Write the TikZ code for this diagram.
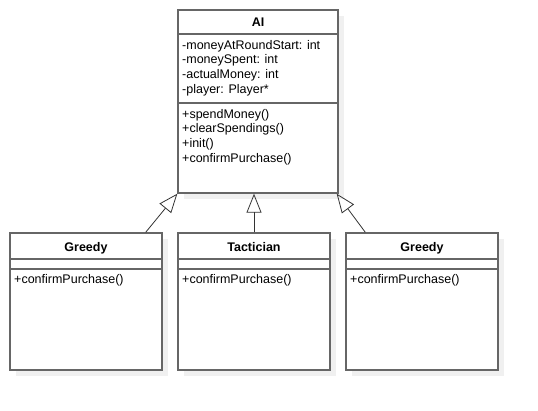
\documentclass[tikz,border=0pt]{standalone}
\usepackage{fontspec}
\setmainfont{Liberation Sans}
\usetikzlibrary{arrows.meta,shadows}
\definecolor{umlline}{rgb}{0.4,0.4,0.4}
\definecolor{umlshadow}{rgb}{0.94,0.94,0.94}

\tikzset{
  umlclass/.style={rectangle,draw=umlline,line width=1.3pt,fill=white,inner sep=0pt,
    drop shadow={shadow xshift=6pt,shadow yshift=-6pt,fill=umlshadow,opacity=1}},
  umltitle/.style={anchor=base,inner sep=0pt,font=\fontsize{12.5}{14.7}\selectfont\bfseries},
  umltext/.style={anchor=base west,inner sep=0pt,font=\fontsize{12.5}{14.7}\selectfont},
  inherit/.style={-{Triangle[open,length=19pt,width=15pt]},line width=0.8pt,black!80}
}

\begin{document}
\begin{tikzpicture}[x=1pt,y=-1pt]
  \useasboundingbox (0,0) rectangle (538,410);
  % classes
  \node[umlclass,minimum width=160pt,minimum height=183pt] (ai) at (258,101.5) {};
  \node[umlclass,minimum width=152pt,minimum height=137pt] (greedyA) at (86,301.5) {};
  \node[umlclass,minimum width=152pt,minimum height=137pt] (tactician) at (254,301.5) {};
  \node[umlclass,minimum width=152pt,minimum height=137pt] (greedyB) at (422,301.5) {};

  % compartments
  \draw[umlline,line width=1.3pt] (ai.west |- 0,34) -- (ai.east |- 0,34);
  \draw[umlline,line width=1.3pt] (ai.west |- 0,103) -- (ai.east |- 0,103);
  \foreach \c in {greedyA,tactician,greedyB}{
    \draw[umlline,line width=1.3pt] (\c.west |- 0,259) -- (\c.east |- 0,259);
    \draw[umlline,line width=1.3pt] (\c.west |- 0,269) -- (\c.east |- 0,269);
  }

  % texts
  \node[umltitle] (ainame) at (258,26) {AI};
  \node[umltext] (attr1) at (182,49) {-moneyAtRoundStart: int};
  \node[umltext] (attr2) at (182,63.7) {-moneySpent: int};
  \node[umltext] (attr3) at (182,78.4) {-actualMoney: int};
  \node[umltext] (attr4) at (182,93.1) {-player: Player*};
  \node[umltext] (op1) at (182,118) {+spendMoney()};
  \node[umltext] (op2) at (182,132.7) {+clearSpendings()};
  \node[umltext] (op3) at (182,147.4) {+init()};
  \node[umltext] (op4) at (182,162.1) {+confirmPurchase()};

  \node[umltitle] (greedyAname) at (86,251) {Greedy};
  \node[umltitle] (tacticianname) at (254,251) {Tactician};
  \node[umltitle] (greedyBname) at (422,251) {Greedy};
  \node[umltext] (greedyAop) at (14,283) {+confirmPurchase()};
  \node[umltext] (tacticianop) at (182,283) {+confirmPurchase()};
  \node[umltext] (greedyBop) at (350,283) {+confirmPurchase()};

  % inheritance
  \draw[inherit] ([xshift=-17pt]greedyA.north east) -- (ai.south west);
  \draw[inherit] (tactician.north) -- (tactician.north |- ai.south);
  \draw[inherit] ([xshift=20pt]greedyB.north west) -- ([xshift=-2pt]ai.south east);
\end{tikzpicture}
\end{document}
